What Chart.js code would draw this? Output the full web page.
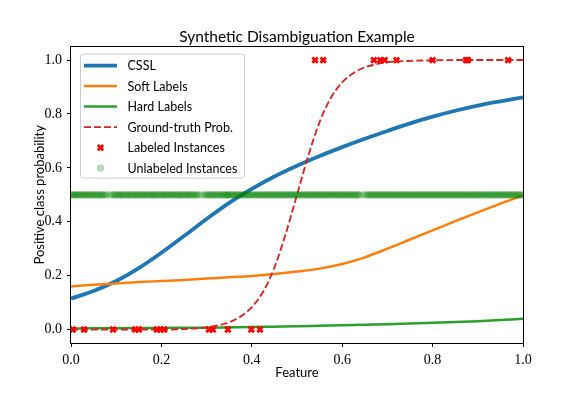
<!DOCTYPE html>
<html>
<head>
<meta charset="utf-8">
<script src="https://cdn.jsdelivr.net/npm/chart.js@4.4.1/dist/chart.umd.min.js"></script>
<style>
  html, body { margin: 0; padding: 0; background: #fff; }
  #wrap { width: 581px; height: 393px; }
</style>
</head>
<body>
<div id="wrap"><canvas id="c" width="581" height="393"></canvas></div>
<script>
// ---- data ----
const curveX = [0, 0.05, 0.1, 0.15, 0.2, 0.25, 0.3, 0.35, 0.4, 0.45, 0.5, 0.55, 0.6, 0.65, 0.7, 0.75, 0.8, 0.85, 0.9, 0.95, 1.0];
const csslY = [0.115, 0.143, 0.180, 0.228, 0.285, 0.347, 0.410, 0.470, 0.522, 0.568, 0.608, 0.644, 0.677, 0.708, 0.737, 0.765, 0.790, 0.812, 0.831, 0.847, 0.862];
const softY = [0.160, 0.166, 0.171, 0.176, 0.180, 0.184, 0.189, 0.194, 0.199, 0.206, 0.215, 0.226, 0.243, 0.268, 0.300, 0.334, 0.368, 0.402, 0.435, 0.467, 0.498];
const hardY = [0.004, 0.0045, 0.005, 0.0055, 0.006, 0.0065, 0.007, 0.008, 0.009, 0.0105, 0.012, 0.014, 0.016, 0.018, 0.020, 0.0225, 0.025, 0.028, 0.031, 0.035, 0.040];
const truthX = [0, 0.05, 0.1, 0.15, 0.2, 0.25, 0.3, 0.325, 0.35, 0.375, 0.4, 0.425, 0.45, 0.475, 0.5, 0.525, 0.55, 0.575, 0.6, 0.625, 0.65, 0.7, 0.75, 0.8, 0.85, 0.9, 0.95, 1.0];
const truthY = [0, 0, 0, 0, 0, 0.002, 0.008, 0.015, 0.027, 0.048, 0.083, 0.14, 0.23, 0.355, 0.5, 0.645, 0.77, 0.86, 0.917, 0.952, 0.973, 0.992, 0.997, 0.999, 1, 1, 1, 1];
const labeledNegX = [0.004, 0.029, 0.093, 0.142, 0.150, 0.190, 0.198, 0.206, 0.305, 0.314, 0.347, 0.399, 0.418];
const labeledPosX = [0.540, 0.558, 0.670, 0.684, 0.694, 0.720, 0.800, 0.874, 0.878, 0.967];
const unlabeledX = [
  0.000,0.002,0.005,0.008,0.012,0.015,0.017,0.021,0.024,0.028,0.030,0.034,0.037,0.041,0.044,0.047,0.051,0.054,0.058,0.061,0.065,0.068,0.071,0.075,0.079,0.086,0.092,0.096,0.099,
  0.103,0.106,0.110,0.113,0.116,0.121,0.124,0.127,0.131,0.134,0.138,0.141,0.145,0.148,0.151,0.156,0.159,0.162,0.166,0.169,0.173,0.176,0.180,0.183,0.186,0.190,0.194,0.197,
  0.201,0.204,0.208,0.211,0.214,0.218,0.222,0.225,0.228,0.232,0.236,0.239,0.242,0.246,0.250,0.253,0.257,0.260,0.263,0.267,0.271,0.274,0.278,0.281,0.288,0.295,0.299,
  0.302,0.306,0.309,0.313,0.316,0.320,0.323,0.327,0.331,0.334,0.337,0.341,0.344,0.346,0.348,0.352,0.355,0.359,0.362,0.366,0.369,0.373,0.376,0.380,0.383,0.387,0.390,0.394,0.397,
  0.401,0.404,0.408,0.411,0.415,0.418,0.422,0.425,0.429,0.432,0.436,0.439,0.443,0.446,0.450,0.453,0.457,0.460,0.464,0.467,0.471,0.474,0.478,0.481,0.485,0.488,0.492,0.495,0.499,
  0.502,0.506,0.509,0.513,0.516,0.520,0.523,0.527,0.530,0.534,0.537,0.541,0.544,0.548,0.551,0.555,0.558,0.562,0.565,0.569,0.572,0.576,0.579,0.583,0.586,0.590,0.593,0.597,
  0.600,0.604,0.607,0.611,0.614,0.618,0.621,0.625,0.628,0.632,0.635,0.639,0.646,0.653,0.656,0.660,0.663,0.667,0.670,0.674,0.677,0.681,0.684,0.688,0.691,0.695,0.698,
  0.702,0.705,0.709,0.712,0.716,0.719,0.723,0.726,0.730,0.733,0.737,0.740,0.744,0.747,0.751,0.754,0.758,0.761,0.765,0.768,0.772,0.775,0.779,0.782,0.786,0.789,0.793,0.796,
  0.800,0.803,0.807,0.810,0.814,0.817,0.821,0.824,0.828,0.831,0.835,0.838,0.842,0.845,0.849,0.852,0.856,0.859,0.863,0.866,0.870,0.873,0.877,0.880,0.884,0.887,0.891,0.894,0.898,
  0.901,0.905,0.908,0.912,0.915,0.919,0.922,0.926,0.929,0.933,0.936,0.940,0.943,0.947,0.950,0.954,0.957,0.961,0.964,0.968,0.971,0.975,0.978,0.982,0.985,0.989,0.992,0.996,1.000
];
const yTickValues = [0, 0.2, 0.4, 0.6, 0.8, 1.0];
const xTickValues = [0, 0.2, 0.4, 0.6, 0.8, 1.0];

const pts = (xs, ys) => xs.map((x, i) => ({x: x, y: ys[i]}));
const constPts = (xs, v) => xs.map(x => ({x: x, y: v}));

const SANS = 'Lato, "DejaVu Sans", sans-serif';
const SERIF = '"Liberation Serif", "DejaVu Serif", serif';

const framePlugin = {
  id: 'frame',
  afterDatasetsDraw(chart) {
    const {ctx, chartArea: a} = chart;
    ctx.save();
    ctx.strokeStyle = '#000';
    ctx.lineWidth = 1;
    ctx.strokeRect(Math.round(a.left) - 0.5, Math.round(a.top) - 0.5, Math.round(a.right - a.left) + 1, Math.round(a.bottom - a.top) + 1);
    ctx.restore();
  }
};

const legendPlugin = {
  id: 'boxLegend',
  afterDraw(chart) {
    const {ctx, chartArea: a} = chart;
    const x0 = a.left + 9.5, y0 = a.top + 7.5;
    const w = 164, h = 124, rowH = 20.5;
    ctx.save();
    ctx.beginPath();
    ctx.roundRect(x0, y0, w, h, 3);
    ctx.fillStyle = 'rgba(255,255,255,0.8)';
    ctx.fill();
    ctx.strokeStyle = '#cccccc';
    ctx.lineWidth = 1;
    ctx.stroke();
    chart.data.datasets.forEach((ds, i) => {
      const cy = y0 + 11.5 + i * rowH;
      const lx0 = x0 + 3.5, lx1 = x0 + 36.5;
      if (ds.showLine) {
        ctx.beginPath();
        ctx.setLineDash(ds.borderDash || []);
        ctx.strokeStyle = ds.borderColor;
        ctx.lineWidth = ds.borderWidth;
        ctx.moveTo(lx0, cy);
        ctx.lineTo(lx1, cy);
        ctx.stroke();
        ctx.setLineDash([]);
      } else {
        ctx.fillStyle = ds.backgroundColor;
        ctx.strokeStyle = ds.borderColor;
        ctx.lineWidth = ds.pointBorderWidth;
        Chart.helpers.drawPoint(ctx, {pointStyle: ds.pointStyle, rotation: 0, radius: ds.pointRadius, borderWidth: ds.pointBorderWidth}, (lx0 + lx1) / 2, cy);
      }
      ctx.fillStyle = '#000';
      ctx.font = '12.5px ' + SANS;
      ctx.textBaseline = 'middle';
      ctx.textAlign = 'left';
      ctx.fillText(ds.label, x0 + 47, cy + 0.5);
    });
    ctx.restore();
  }
};

const ctx = document.getElementById('c').getContext('2d');
new Chart(ctx, {
  type: 'scatter',
  data: {
    datasets: [
      { label: 'CSSL', data: pts(curveX, csslY), showLine: true, borderColor: '#1f77b4', borderWidth: 3.8, pointRadius: 0, cubicInterpolationMode: 'monotone', order: 6 },
      { label: 'Soft Labels', data: pts(curveX, softY), showLine: true, borderColor: '#ff7f0e', borderWidth: 2.5, pointRadius: 0, cubicInterpolationMode: 'monotone', order: 5 },
      { label: 'Hard Labels', data: pts(curveX, hardY), showLine: true, borderColor: '#2ca02c', borderWidth: 2.5, pointRadius: 0, cubicInterpolationMode: 'monotone', order: 4 },
      { label: 'Ground-truth Prob.', data: pts(truthX, truthY), showLine: true, borderColor: '#d62728', borderWidth: 1.9, borderDash: [7, 3], pointRadius: 0, cubicInterpolationMode: 'monotone', order: 3 },
      { label: 'Labeled Instances', data: constPts(labeledNegX, 0).concat(constPts(labeledPosX, 1)), showLine: false, pointStyle: 'crossRot', pointRadius: 3.8, pointBorderWidth: 2.8, borderColor: '#ff0000', backgroundColor: '#ff0000', order: 1 },
      { label: 'Unlabeled Instances', data: constPts(unlabeledX, 0.5), showLine: false, pointStyle: 'circle', pointRadius: 3.6, pointBorderWidth: 0, borderWidth: 0, borderColor: 'rgba(0,128,0,0)', backgroundColor: 'rgba(0,128,0,0.3)', order: 2 }
    ]
  },
  options: {
    responsive: false,
    animation: false,
    events: [],
    layout: { padding: { left: 0, right: 58, top: 0, bottom: 0 } },
    plugins: {
      legend: { display: false },
      tooltip: { enabled: false },
      title: {
        display: true,
        fullSize: false,
        text: 'Synthetic Disambiguation Example',
        color: '#000',
        font: { family: SANS, size: 15.5, weight: 'normal' },
        padding: { top: 28, bottom: 0 }
      }
    },
    scales: {
      x: {
        type: 'linear', min: 0, max: 1,
        afterBuildTicks: s => { s.ticks = xTickValues.map(v => ({value: v})); },
        afterFit: s => { s.height = 50; },
        grid: { drawOnChartArea: false, drawTicks: true, tickLength: 4, color: '#000' },
        border: { display: false },
        ticks: { color: '#000', padding: 5, maxRotation: 0, font: { family: SERIF, size: 14 }, callback: v => v.toFixed(1) },
        title: { display: true, text: 'Feature', color: '#000', font: { family: SANS, size: 13 }, padding: { top: 0, bottom: 12.5 } }
      },
      y: {
        type: 'linear', min: -0.05, max: 1.05,
        afterBuildTicks: s => { s.ticks = yTickValues.map(v => ({value: v})); },
        afterFit: s => { s.width = 71; },
        grid: { drawOnChartArea: false, drawTicks: true, tickLength: 4, color: '#000' },
        border: { display: false },
        ticks: { color: '#000', padding: 5, font: { family: SERIF, size: 14 }, callback: v => v.toFixed(1) },
        title: { display: true, text: 'Positive class probability', color: '#000', font: { family: SANS, size: 13 }, padding: { top: 32, bottom: 0 } }
      }
    }
  },
  plugins: [framePlugin, legendPlugin]
});
</script>
</body>
</html>
